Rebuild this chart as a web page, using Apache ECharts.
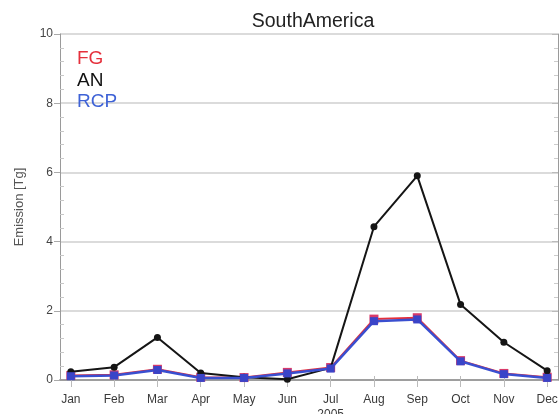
<!DOCTYPE html>
<html>
<head>
<meta charset="utf-8">
<script src="https://cdn.jsdelivr.net/npm/echarts@6/dist/echarts.min.js"></script>
<style>
  html, body { margin: 0; padding: 0; background: #fff; }
  #chart { width: 560px; height: 414px; }
</style>
</head>
<body>
<div id="chart"></div>
<script>
// Monthly emissions, South America, 2005
const months = ['Jan', 'Feb', 'Mar', 'Apr', 'May', 'Jun', 'Jul', 'Aug', 'Sep', 'Oct', 'Nov', 'Dec'];
const monthIndex = [1, 2, 3, 4, 5, 6, 7, 8, 9, 10, 11, 12];
const fgValues  = [0.13, 0.15, 0.31, 0.08, 0.07, 0.22, 0.36, 1.76, 1.80, 0.56, 0.19, 0.08];
const anValues  = [0.24, 0.37, 1.23, 0.20, 0.08, 0.02, 0.35, 4.43, 5.90, 2.18, 1.09, 0.27];
const rcpValues = [0.11, 0.13, 0.29, 0.06, 0.06, 0.19, 0.33, 1.70, 1.75, 0.54, 0.17, 0.06];
const yearLabel = '2005';

const pairs = vals => vals.map((v, i) => [monthIndex[i], v]);

const axisGray = '#9a9a9a';
const font = 'Liberation Sans, Arial, sans-serif';

const chart = echarts.init(document.getElementById('chart'), null, { renderer: 'canvas' });
chart.setOption({
  animation: false,
  backgroundColor: '#fff',
  title: {
    text: 'SouthAmerica',
    left: 308, top: 7, textAlign: 'center',
    textStyle: { fontFamily: font, fontSize: 19.5, fontWeight: 'normal', color: '#222' }
  },
  legend: {
    orient: 'vertical', left: 72, top: 44, itemGap: 1.5,
    itemWidth: 0, itemHeight: 0, icon: 'none', selectedMode: false,
    textStyle: { fontFamily: font, fontSize: 19, lineHeight: 20, padding: [0, 0, 0, -5] },
    data: [
      { name: 'FG', textStyle: { color: '#e5303c' } },
      { name: 'AN', textStyle: { color: '#111' } },
      { name: 'RCP', textStyle: { color: '#3e62d6' } }
    ]
  },
  grid: { left: 60, right: 2, top: 34, bottom: 34, containLabel: false, outerBoundsMode: 'none' },
  xAxis: [{
    type: 'value', min: 0.75, max: 12.25, position: 'bottom',
    axisLine: { show: true, lineStyle: { color: axisGray, width: 1.5 } },
    splitLine: { show: false },
    axisTick: { show: true, inside: true, length: 4, customValues: monthIndex, lineStyle: { color: '#bbb' } },
    axisLabel: {
      customValues: monthIndex, margin: 12,
      fontFamily: font, fontSize: 12, color: '#3a3a3a', lineHeight: 15,
      formatter: v => { const m = months[Math.round(v) - 1]; return m === 'Jul' ? m + '\n' + yearLabel : m; }
    }
  }, {
    type: 'value', min: 0.75, max: 12.25, position: 'top',
    axisLine: { show: true, lineStyle: { color: axisGray, width: 1.5 } },
    splitLine: { show: false },
    axisTick: { show: true, inside: true, length: 7, customValues: monthIndex, lineStyle: { color: '#bbb' } },
    axisLabel: { show: false }
  }],
  yAxis: [{
    type: 'value', min: 0, max: 10, interval: 2, position: 'left',
    name: 'Emission [Tg]', nameLocation: 'middle', nameGap: 34, nameRotate: 90,
    nameTextStyle: { fontFamily: font, fontSize: 13, color: '#555' },
    axisLine: { show: true, lineStyle: { color: axisGray, width: 1 } },
    axisTick: { show: true, inside: false, length: 6, lineStyle: { color: '#aaa' } },
    splitLine: { show: true, lineStyle: { color: '#cfcfcf', width: 1.5 } },
    axisLabel: { fontFamily: font, fontSize: 12, color: '#444', margin: 7 }
  }, {
    // inward minor ticks along the left edge
    type: 'value', min: 0, max: 10, interval: 2, position: 'left',
    axisLine: { show: false },
    axisTick: { show: false, inside: true },
    minorTick: { show: true, splitNumber: 5, length: 4, lineStyle: { color: '#c8c8c8' } },
    splitLine: { show: false },
    axisLabel: { show: false }
  }, {
    type: 'value', min: 0, max: 10, interval: 2, position: 'right',
    axisLine: { show: true, lineStyle: { color: axisGray, width: 1 } },
    axisTick: { show: true, inside: true, length: 6, lineStyle: { color: '#bbb' } },
    minorTick: { show: true, splitNumber: 5, length: 4, lineStyle: { color: '#ccc' } },
    splitLine: { show: false },
    axisLabel: { show: false }
  }],
  series: [{
    name: 'FG', type: 'line', data: pairs(fgValues), xAxisIndex: 0, yAxisIndex: 0,
    symbol: 'rect', symbolSize: 9, z: 2,
    lineStyle: { color: '#e5303c', width: 2 },
    itemStyle: { color: '#d93a6a' }
  }, {
    name: 'AN', type: 'line', data: pairs(anValues), xAxisIndex: 0, yAxisIndex: 0,
    symbol: 'circle', symbolSize: 7, z: 3,
    lineStyle: { color: '#151515', width: 2 },
    itemStyle: { color: '#151515' }
  }, {
    name: 'RCP', type: 'line', data: pairs(rcpValues), xAxisIndex: 0, yAxisIndex: 0,
    symbol: 'rect', symbolSize: 8, z: 4,
    lineStyle: { color: '#3a4fd0', width: 2.5 },
    itemStyle: { color: '#3a44c8' }
  }]
});
</script>
</body>
</html>
